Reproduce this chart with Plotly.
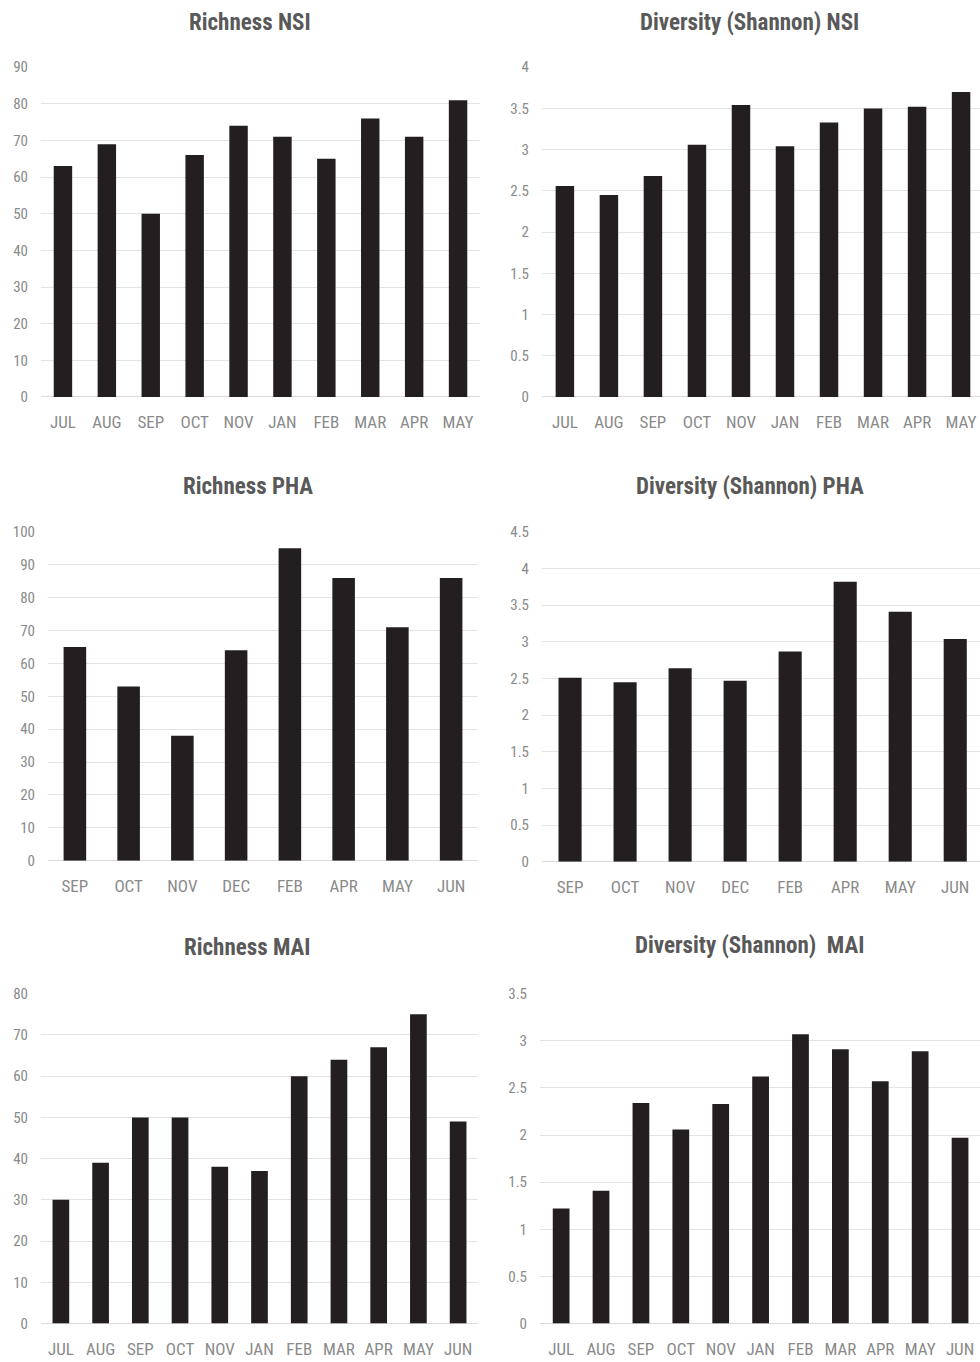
import plotly.graph_objects as go

# Sampling months per site
months_nsi = ["JUL", "AUG", "SEP", "OCT", "NOV", "JAN", "FEB", "MAR", "APR", "MAY"]
months_pha = ["SEP", "OCT", "NOV", "DEC", "FEB", "APR", "MAY", "JUN"]
months_mai = ["JUL", "AUG", "SEP", "OCT", "NOV", "JAN", "FEB", "MAR", "APR", "MAY", "JUN"]

# Species richness
richness_nsi = [63, 69, 50, 66, 74, 71, 65, 76, 71, 81]
richness_pha = [65, 53, 38, 64, 95, 86, 71, 86]
richness_mai = [30, 39, 50, 50, 38, 37, 60, 64, 67, 75, 49]

# Shannon diversity index
shannon_nsi = [2.56, 2.45, 2.68, 3.06, 3.54, 3.04, 3.33, 3.50, 3.52, 3.70]
shannon_pha = [2.51, 2.45, 2.64, 2.47, 2.87, 3.82, 3.41, 3.04]
shannon_mai = [1.22, 1.41, 2.34, 2.06, 2.33, 2.62, 3.07, 2.91, 2.57, 2.89, 1.97]

titles = ["Richness NSI", "Diversity (Shannon) NSI",
          "Richness PHA", "Diversity (Shannon) PHA",
          "Richness MAI", "Diversity (Shannon)  MAI"]

W, H = 980, 1362
Y_SHIFT, Y_SCALE = 8.8, 0.9873   # page framing: rows land at Y_SHIFT + Y_SCALE * y
FONT = "Liberation Sans Narrow, Arial Narrow, Roboto Condensed, Liberation Sans, sans-serif"
BAR = "#231f20"
GRID = "#e3e3e3"
TICK = "#8a8a8a"
TITLE = "#595959"

# (x categories, values, y max, y step, plot box in px: left, right, top, bottom, x range, title centre)
panels = [
    (months_nsi, richness_nsi, 90, 10, (41, 480, 67, 397), [-0.5, 9.5], (250, 22)),
    (months_nsi, shannon_nsi, 4, 0.5, (542, 980, 67, 397), [-0.52, 9.43], (749, 22)),
    (months_pha, richness_pha, 100, 10, (48, 478, 532, 861), [-0.5, 7.5], (248, 487)),
    (months_pha, shannon_pha, 4.5, 0.5, (542, 980, 532, 862), [-0.51, 7.45], (750, 487)),
    (months_mai, richness_mai, 80, 10, (41, 478, 994, 1324), [-0.5, 10.5], (248, 948)),
    (months_mai, shannon_mai, 3.5, 0.5, (540, 980, 994, 1324), [-0.53, 10.5], (749, 946)),
]


def fy(ypx):
    """Screen row -> paper fraction."""
    return 1 - ((ypx - Y_SHIFT) / Y_SCALE) / H


fig = go.Figure()
layout = {}
annotations = []
for i, (cats, vals, ymax, step, box, xr, tpos) in enumerate(panels, start=1):
    left, right, top, bottom = box
    xa = "x" if i == 1 else f"x{i}"
    ya = "y" if i == 1 else f"y{i}"
    fig.add_trace(go.Bar(x=cats, y=vals, xaxis=xa, yaxis=ya,
                         marker=dict(color=BAR, line=dict(width=0)),
                         showlegend=False, hoverinfo="x+y"))
    xkey = "xaxis" if i == 1 else f"xaxis{i}"
    ykey = "yaxis" if i == 1 else f"yaxis{i}"
    layout[xkey] = dict(
        domain=[left / W, right / W], anchor=ya, type="category",
        range=xr, showgrid=False, showline=False, zeroline=False,
        ticks="", ticklabelstandoff=13,
        tickfont=dict(family=FONT, size=17, color=TICK), fixedrange=True,
    )
    layout[ykey] = dict(
        domain=[fy(bottom), fy(top)], anchor=xa,
        range=[0, ymax], dtick=step, tick0=0,
        showgrid=True, gridcolor=GRID, gridwidth=1,
        zeroline=True, zerolinecolor="#d9d9d9", zerolinewidth=1,
        showline=False, ticks="", ticklabelstandoff=12,
        tickfont=dict(family=FONT, size=15, color=TICK), fixedrange=True,
    )
    annotations.append(dict(
        text=f"<b>{titles[i - 1]}</b>", x=tpos[0] / W, y=fy(tpos[1]),
        xref="paper", yref="paper", xanchor="center", yanchor="middle",
        showarrow=False, font=dict(family=FONT, size=23, color=TITLE),
    ))

fig.update_layout(
    width=W, height=H, margin=dict(l=0, r=0, t=0, b=0),
    paper_bgcolor="white", plot_bgcolor="white",
    bargap=0.58, annotations=annotations, **layout,
)

fig.write_html("out.html")
